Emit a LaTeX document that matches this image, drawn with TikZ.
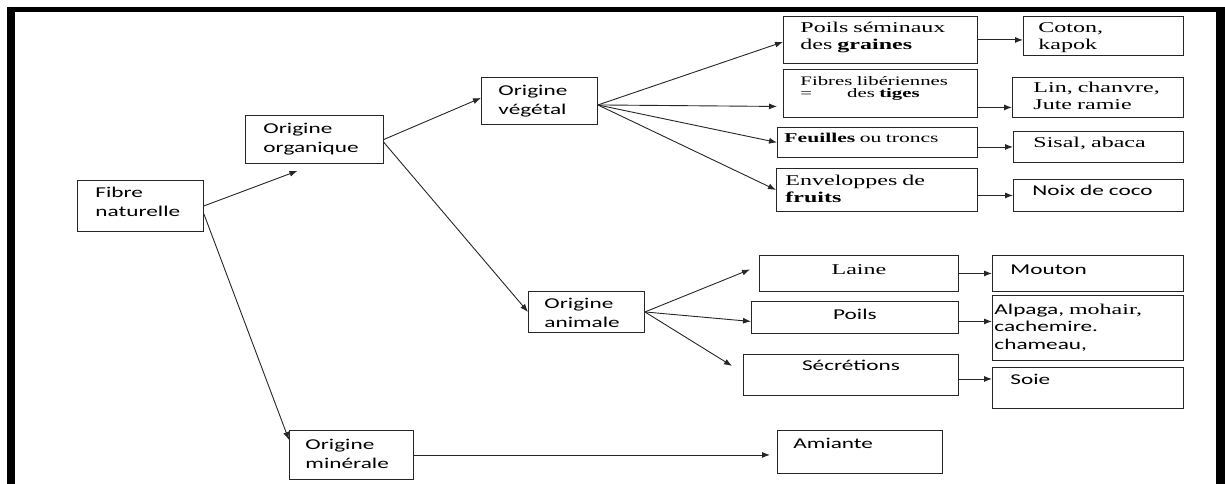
\documentclass[tikz,border=0pt]{standalone}
\usepackage{fontspec}
\setmainfont{Liberation Serif}[FakeStretch=1.6]
\setsansfont{Carlito}[FakeStretch=1.55]
\usetikzlibrary{arrows.meta}

\begin{document}
\begin{tikzpicture}[x=1pt, y=-1pt, >={Latex[length=8pt,width=6pt]},
  box/.style={draw=black!85, line width=0.9pt, anchor=north west, inner ysep=0pt, align=left},
  txtsf/.style={font=\sffamily\fontsize{15}{19}\selectfont},
  txtrm/.style={font=\rmfamily\fontsize{15}{17}\selectfont},
  arr/.style={->, draw=black!85, line width=0.9pt}]
\useasboundingbox (0,0) rectangle (1225,484);
\fill[black] (7,7) rectangle (1225,12);
\fill[black] (7,7) rectangle (15,484);
\fill[black] (1216,7) rectangle (1225,484);

\node[box, txtsf, inner xsep=18pt, text width=90pt, text height=17pt, text depth=34pt] (fibre) at (77,180) {Fibre\\naturelle};
\node[box, txtsf, inner xsep=18pt, text width=102pt, text height=18pt, text depth=30pt] (organique) at (245,115) {Origine\\organique};
\node[box, txtsf, inner xsep=17pt, text width=82pt, text height=18pt, text depth=29pt] (vegetal) at (481,77) {Origine\\végétal};
\node[box, txtsf, inner xsep=16pt, text width=84pt, text height=17pt, text depth=24pt] (animale) at (528,291) {Origine\\animale};
\node[box, txtsf, inner xsep=16pt, text width=92pt, text height=19pt, text depth=30pt] (minerale) at (289,430) {Origine\\minérale};

\node[box, txtrm, inner xsep=17pt, text width=160pt, text height=16pt, text depth=31pt] (graines) at (783,16) {Poils séminaux\\des \textbf{graines}};
\node[box, txtrm, font=\rmfamily\fontsize{13}{12}\selectfont, inner xsep=17pt, text width=160pt, text height=16pt, text depth=32pt] (tiges) at (783,69) {Fibres libériennes\\=\hspace*{35pt}des \textbf{tiges}};
\node[box, txtrm, font=\rmfamily\fontsize{13.5}{16}\selectfont, inner xsep=7pt, text width=186pt, text height=15pt, text depth=15pt] (troncs) at (777,127) {\textbf{Feuilles} ou troncs};
\node[box, txtrm, inner xsep=9pt, text width=183pt, text height=17pt, text depth=26pt] (fruits) at (776,168) {Enveloppes de\\\textbf{fruits}};

\node[box, txtrm, inner xsep=15pt, text width=130pt, text height=16pt, text depth=23pt] (coton) at (1023,16) {Coton,\\kapok};
\node[box, txtrm, inner xsep=21pt, text width=129pt, text height=15pt, text depth=25pt] (lin) at (1012,77) {Lin, chanvre,\\Jute ramie};
\node[box, txtrm, inner xsep=20pt, text width=130pt, text height=16pt, text depth=15pt] (sisal) at (1013,131) {Sisal, abaca};
\node[box, txtsf, inner xsep=19pt, text width=132pt, text height=16pt, text depth=16pt] (noix) at (1013,179) {Noix de coco};

\node[box, txtrm, align=center, inner xsep=0pt, text width=199pt, text height=19pt, text depth=17pt] (laine) at (759,255) {Laine};
\node[box, txtsf, align=center, inner xsep=0pt, text width=207pt, text height=18pt, text depth=14pt] (poils) at (751,301) {Poils};
\node[box, txtsf, align=center, inner xsep=0pt, text width=215pt, text height=16pt, text depth=25pt] (secretions) at (743,354) {Sécrétions};

\node[box, txtsf, inner xsep=18pt, text width=155pt, text height=19pt, text depth=17pt] (mouton) at (992,255) {Mouton};
\node[box, txtsf, font=\sffamily\fontsize{15}{17.5}\selectfont, inner xsep=2pt, text width=187pt, text height=19pt, text depth=46pt] (alpaga) at (992,295) {Alpaga, {\rmfamily mohair,}\\cachemire.\\chameau,};
\node[box, txtsf, inner xsep=18pt, text width=155pt, text height=17pt, text depth=24pt] (soie) at (992,367) {Soie};
\node[box, txtsf, inner xsep=16pt, text width=133pt, text height=18pt, text depth=25pt] (amiante) at (777,430) {Amiante};

\draw[arr] (fibre.east) -- ([xshift=-17pt,yshift=-7pt]organique.south);
\draw[arr] ([yshift=-8pt]fibre.east) -- ([yshift=-10pt]minerale.north west);
\draw[arr] (organique.east) -- ([yshift=3pt]vegetal.west);
\draw[arr] ([yshift=-3pt]organique.east) -- (animale.west);

\coordinate (vg) at ([yshift=-4pt]vegetal.east);
\draw[arr] (vg) -- ([yshift=-2pt]graines.west);
\draw[arr] (vg) -- ([xshift=-6pt,yshift=-13pt]tiges.west);
\draw[arr] (vg) -- (troncs.west);
\draw[arr] (vg) -- (fruits.west);

\coordinate (t1) at ([yshift=-14pt]tiges.east);
\draw[arr] (graines.east) -- (graines.east -| coton.west);
\draw[arr] (t1) -- (t1 -| lin.west);
\draw[arr] (troncs.east |- sisal.west) -- (sisal.west);
\draw[arr] (fruits.east |- noix.west) -- (noix.west);

\draw[arr] (animale.east) -- ([xshift=-9pt,yshift=4pt]laine.west);
\draw[arr] (animale.east) -- ([yshift=-4pt]poils.west);
\draw[arr] (animale.east) -- ([xshift=-11pt,yshift=9pt]secretions.west);

\coordinate (p1) at ([yshift=-4pt]poils.east);
\coordinate (s1) at ([yshift=-4pt]secretions.east);
\coordinate (a1) at (minerale.east -| amiante.west);
\draw[arr] (laine.east) -- (mouton.west);
\draw[arr] (p1) -- (p1 -| alpaga.west);
\draw[arr] (s1) -- (s1 -| soie.west);
\draw[arr] (minerale.east) -- ([xshift=-7pt]a1);
\end{tikzpicture}
\end{document}
